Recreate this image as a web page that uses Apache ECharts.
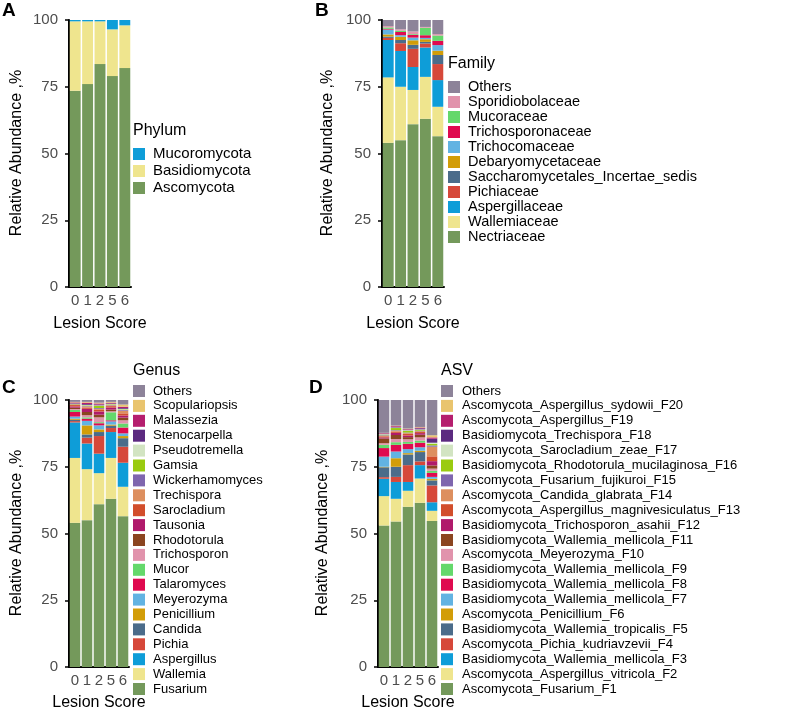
<!DOCTYPE html>
<html><head><meta charset="utf-8">
<script src="https://cdn.jsdelivr.net/npm/echarts@6/dist/echarts.min.js"></script>
<style>html,body{margin:0;padding:0;background:#fff;} #c{width:787px;height:713px;}</style>
</head><body><div id="c"></div>
<script>
// ---------- categories ----------
const lesionScores = ['0', '1', '2', '5', '6'];
const yTicks = [0, 25, 50, 75, 100];

// ---------- A: Phylum (stack bottom -> top) ----------
const phylumNames = ['Ascomycota', 'Basidiomycota', 'Mucoromycota'];
const phyAscomycota   = [73.5, 76, 83.5, 79, 82];
const phyBasidiomycota = [26, 23.5, 16, 17.5, 16];
const phyMucoromycota = [0.5, 0.5, 0.5, 3.5, 2];

// ---------- B: Family ----------
const familyNames = ['Nectriaceae', 'Wallemiaceae', 'Aspergillaceae', 'Pichiaceae',
  'Saccharomycetales_Incertae_sedis', 'Debaryomycetaceae', 'Trichocomaceae',
  'Trichosporonaceae', 'Mucoraceae', 'Sporidiobolaceae', 'Others'];
const famNectriaceae = [54, 55, 61, 63, 56.5];
const famWallemiaceae = [24.5, 20, 12.8, 15.7, 11];
const famAspergillaceae = [14, 13.4, 8.6, 11, 10];
const famPichiaceae = [0.8, 2.9, 6.8, 1.5, 6];
const famSaccharomycetales = [0.5, 1.2, 1.5, 0.6, 3.4];
const famDebaryomycetaceae = [0.8, 1.2, 1.7, 1, 1.6];
const famTrichocomaceae = [1.8, 0.6, 1, 0.5, 2.1];
const famTrichosporonaceae = [0.3, 1.2, 1, 1, 1.6];
const famMucoraceae = [0.5, 0.5, 0.3, 2.8, 2];
const famSporidiobolaceae = [0.5, 0.5, 1, 0.3, 0.5];
const famOthers = [2.3, 3.5, 4.3, 2.6, 5.3];

// ---------- C: Genus ----------
const genusNames = ['Fusarium', 'Wallemia', 'Aspergillus', 'Pichia', 'Candida', 'Penicillium',
  'Meyerozyma', 'Talaromyces', 'Mucor', 'Trichosporon', 'Rhodotorula', 'Tausonia', 'Sarocladium',
  'Trechispora', 'Wickerhamomyces', 'Gamsia', 'Pseudotremella', 'Stenocarpella', 'Malassezia',
  'Scopulariopsis', 'Others'];
const genFusarium = [54, 55, 61, 63, 56.5];
const genWallemia = [24.3, 19.1, 11.6, 15.3, 11];
const genAspergillus = [13.3, 9.6, 7.3, 9.7, 9];
const genPichia = [0.5, 2.2, 6.6, 1.5, 6];
const genCandida = [0.5, 1.2, 1.5, 0.9, 3.2];
const genPenicillium = [0.4, 3.4, 1.0, 0.4, 0.8];
const genMeyerozyma = [0.8, 1.7, 1.5, 1.2, 1.0];
const genTalaromyces = [1.7, 0.8, 0.8, 0.4, 2.2];
const genMucor = [0.8, 0.5, 0.4, 3.0, 1.5];
const genTrichosporon = [0.3, 0.8, 1.8, 0.4, 1.2];
const genRhodotorula = [0.5, 1.2, 1.0, 0.6, 1.0];
const genTausonia = [0.5, 1.2, 1.2, 0.8, 0.8];
const genSarocladium = [0.5, 0.5, 0.6, 0.5, 0.8];
const genTrechispora = [0.2, 0.4, 0.4, 0.3, 1.0];
const genWickerhamomyces = [0.1, 0.2, 0.3, 0.2, 0.3];
const genGamsia = [0.1, 0.2, 0.8, 0.2, 0.2];
const genPseudotremella = [0.1, 0.2, 0.2, 0.1, 0.2];
const genStenocarpella = [0.2, 0.3, 0.3, 0.2, 0.3];
const genMalassezia = [0.3, 0.5, 0.4, 0.3, 0.5];
const genScopulariopsis = [0.2, 0.3, 0.3, 0.3, 0.8];
const genOthers = [0.7, 0.7, 1.0, 0.7, 1.7];

// ---------- D: ASV ----------
const asvNames = ['Ascomycota_Fusarium_F1', 'Ascomycota_Aspergillus_vitricola_F2',
  'Basidiomycota_Wallemia_mellicola_F3', 'Ascomycota_Pichia_kudriavzevii_F4',
  'Basidiomycota_Wallemia_tropicalis_F5', 'Ascomycota_Penicillium_F6',
  'Basidiomycota_Wallemia_mellicola_F7', 'Basidiomycota_Wallemia_mellicola_F8',
  'Basidiomycota_Wallemia_mellicola_F9', 'Ascomycota_Meyerozyma_F10',
  'Basidiomycota_Wallemia_mellicola_F11', 'Basidiomycota_Trichosporon_asahii_F12',
  'Ascomycota_Aspergillus_magnivesiculatus_F13', 'Ascomycota_Candida_glabrata_F14',
  'Ascomycota_Fusarium_fujikuroi_F15', 'Basidiomycota_Rhodotorula_mucilaginosa_F16',
  'Ascomycota_Sarocladium_zeae_F17', 'Basidiomycota_Trechispora_F18',
  'Ascomycota_Aspergillus_F19', 'Ascomycota_Aspergillus_sydowii_F20', 'Others'];
const asvF1 = [53, 54.5, 60, 61.5, 54.7];
const asvF2 = [11, 8.5, 6, 9.1, 3.8];
const asvF3 = [6.5, 6.3, 3.3, 5, 3.2];
const asvF4 = [0.6, 1.9, 6.3, 1.4, 6.3];
const asvF5 = [3.7, 3.8, 4, 3.5, 1.9];
const asvF6 = [0.2, 3.2, 0.5, 0.5, 0.6];
const asvF7 = [3.8, 2.5, 1.5, 1.3, 0.7];
const asvF8 = [3.2, 2.5, 2, 1.7, 1.5];
const asvF9 = [1.2, 1.0, 0.7, 0.8, 0.8];
const asvF10 = [0.6, 1.2, 1.0, 1.2, 0.8];
const asvF11 = [1.8, 1.5, 0.8, 1.0, 1.2];
const asvF12 = [0.4, 0.8, 0.6, 0.6, 1.6];
const asvF13 = [0.4, 0.5, 0.6, 0.4, 1.8];
const asvF14 = [0.2, 0.3, 0.3, 0.3, 3.6];
const asvF15 = [0.2, 0.2, 0.2, 0.2, 0.5];
const asvF16 = [0.2, 0.8, 0.6, 0.3, 0.6];
const asvF17 = [0.2, 0.2, 0.3, 0.2, 0.4];
const asvF18 = [0.2, 0.2, 0.2, 0.4, 1.5];
const asvF19 = [0.2, 0.3, 0.2, 0.3, 0.5];
const asvF20 = [0.1, 0.2, 0.2, 0.2, 0.8];
const asvOthers = [12.3, 9.6, 10.7, 10.1, 13.2];

// ---------- palette (stack order bottom -> top) ----------
const palette = ['#74995B', '#EFE58E', '#0E9DD8', '#D6483A', '#4B6C8A', '#D29D08', '#62B3E2',
  '#DF0A4F', '#64D86B', '#E193AC', '#8B4520', '#B01A6B', '#D24E2B', '#DD8F5F', '#7F66AE',
  '#9ACB10', '#D2E4C2', '#5C2A80', '#B51E6E', '#E9C46E'];
const othersColor = '#8D8399';
const phylumColors = ['#74995B', '#EFE58E', '#0E9DD8'];
const familyColors = ['#74995B', '#EFE58E', '#0E9DD8', '#D6483A', '#4B6C8A', '#D29D08', '#62B3E2',
  '#DF0A4F', '#64D86B', '#E193AC', othersColor];

const FONT = "'Liberation Sans', Arial, sans-serif";

const phylumData = [phyAscomycota, phyBasidiomycota, phyMucoromycota];
const familyData = [famNectriaceae, famWallemiaceae, famAspergillaceae, famPichiaceae,
  famSaccharomycetales, famDebaryomycetaceae, famTrichocomaceae, famTrichosporonaceae,
  famMucoraceae, famSporidiobolaceae, famOthers];
const genusData = [genFusarium, genWallemia, genAspergillus, genPichia, genCandida, genPenicillium,
  genMeyerozyma, genTalaromyces, genMucor, genTrichosporon, genRhodotorula, genTausonia,
  genSarocladium, genTrechispora, genWickerhamomyces, genGamsia, genPseudotremella,
  genStenocarpella, genMalassezia, genScopulariopsis, genOthers];
const asvData = [asvF1, asvF2, asvF3, asvF4, asvF5, asvF6, asvF7, asvF8, asvF9, asvF10, asvF11,
  asvF12, asvF13, asvF14, asvF15, asvF16, asvF17, asvF18, asvF19, asvF20, asvOthers];

const panels = [
  {names: phylumNames, data: phylumData, colors: phylumColors,
   grid: {left: 69, top: 20, width: 62, height: 267}},
  {names: familyNames, data: familyData, colors: familyColors,
   grid: {left: 382, top: 20, width: 62, height: 267}},
  {names: genusNames, data: genusData, colors: palette.concat([othersColor]),
   grid: {left: 69, top: 400, width: 60, height: 267}},
  {names: asvNames, data: asvData, colors: palette.concat([othersColor]),
   grid: {left: 378, top: 400, width: 60, height: 267}}
];

const grids = [], xAxes = [], yAxes = [], series = [];
panels.forEach((p, i) => {
  grids.push(p.grid);
  xAxes.push({
    type: 'category', gridIndex: i, data: lesionScores,
    axisLine: {show: true, lineStyle: {color: '#000', width: 2}},
    axisTick: {show: false},
    axisLabel: {color: '#4D4D4D', fontSize: 15, fontFamily: FONT, margin: 6, interval: 0}
  });
  yAxes.push({
    type: 'value', gridIndex: i, min: 0, max: 100, interval: 25,
    axisLine: {show: true, lineStyle: {color: '#000', width: 2}},
    axisTick: {show: true, length: 4, lineStyle: {color: '#000', width: 1.5}},
    axisLabel: {color: '#4D4D4D', fontSize: 15, fontFamily: FONT, margin: 11},
    splitLine: {show: false}
  });
  p.names.forEach((n, k) => {
    series.push({
      type: 'bar', name: n, xAxisIndex: i, yAxisIndex: i, stack: 'p' + i,
      barCategoryGap: '12%', data: p.data[k],
      itemStyle: {color: p.colors[k]}, emphasis: {disabled: true}
    });
  });
});

function legendFor(p, left, top, gap, fs, pad) {
  return {
    orient: 'vertical', left: left, top: top, itemWidth: 12, itemHeight: 12, itemGap: gap,
    icon: 'rect', selectedMode: false, padding: 0, height: 320,
    data: p.names.slice().reverse(),
    textStyle: {fontSize: fs, fontFamily: FONT, color: '#000', padding: [0, 0, 0, pad]}
  };
}

function txt(text, x, y, opts) {
  return {
    type: 'text', x: x, y: y,
    style: Object.assign({text: text, fill: '#000', font: '16px ' + FONT,
      textAlign: 'left', textVerticalAlign: 'middle', align: 'left', verticalAlign: 'middle'}, opts || {})
  };
}
function rtxt(text, x, y) {
  return {type: 'text', x: x, y: y, rotation: Math.PI / 2,
    style: {text: text, fill: '#000', font: '16px ' + FONT,
      textAlign: 'center', textVerticalAlign: 'middle', align: 'center', verticalAlign: 'middle'}};
}
const bold = {font: 'bold 19px ' + FONT};
const ctr = {textAlign: 'center', align: 'center'};

const graphics = [
  txt('A', 2, 11, bold), txt('B', 315, 11, bold), txt('C', 2, 388, bold), txt('D', 309, 388, bold),
  rtxt('Relative Abundance ,%', 17, 153), rtxt('Relative Abundance ,%', 328, 153),
  rtxt('Relative Abundance ,%', 17, 533), rtxt('Relative Abundance ,%', 323, 533),
  txt('Lesion Score', 100, 324, ctr), txt('Lesion Score', 413, 324, ctr),
  txt('Lesion Score', 99, 703, ctr), txt('Lesion Score', 408, 703, ctr),
  txt('Phylum', 133, 131), txt('Family', 448, 64), txt('Genus', 133, 371), txt('ASV', 441, 371)
];

const chart = echarts.init(document.getElementById('c'), null, {renderer: 'canvas'});
chart.setOption({
  animation: false,
  backgroundColor: '#fff',
  grid: grids, xAxis: xAxes, yAxis: yAxes, series: series,
  legend: [
    legendFor(panels[0], 133, 146.5, 2, 15, 3),
    legendFor(panels[1], 448, 79.5, 0, 14.5, 3),
    legendFor(panels[2], 133, 384.5, 1.9, 13, 3),
    legendFor(panels[3], 441, 384.5, 1.9, 13, 4)
  ],
  graphic: graphics
});
</script></body></html>
